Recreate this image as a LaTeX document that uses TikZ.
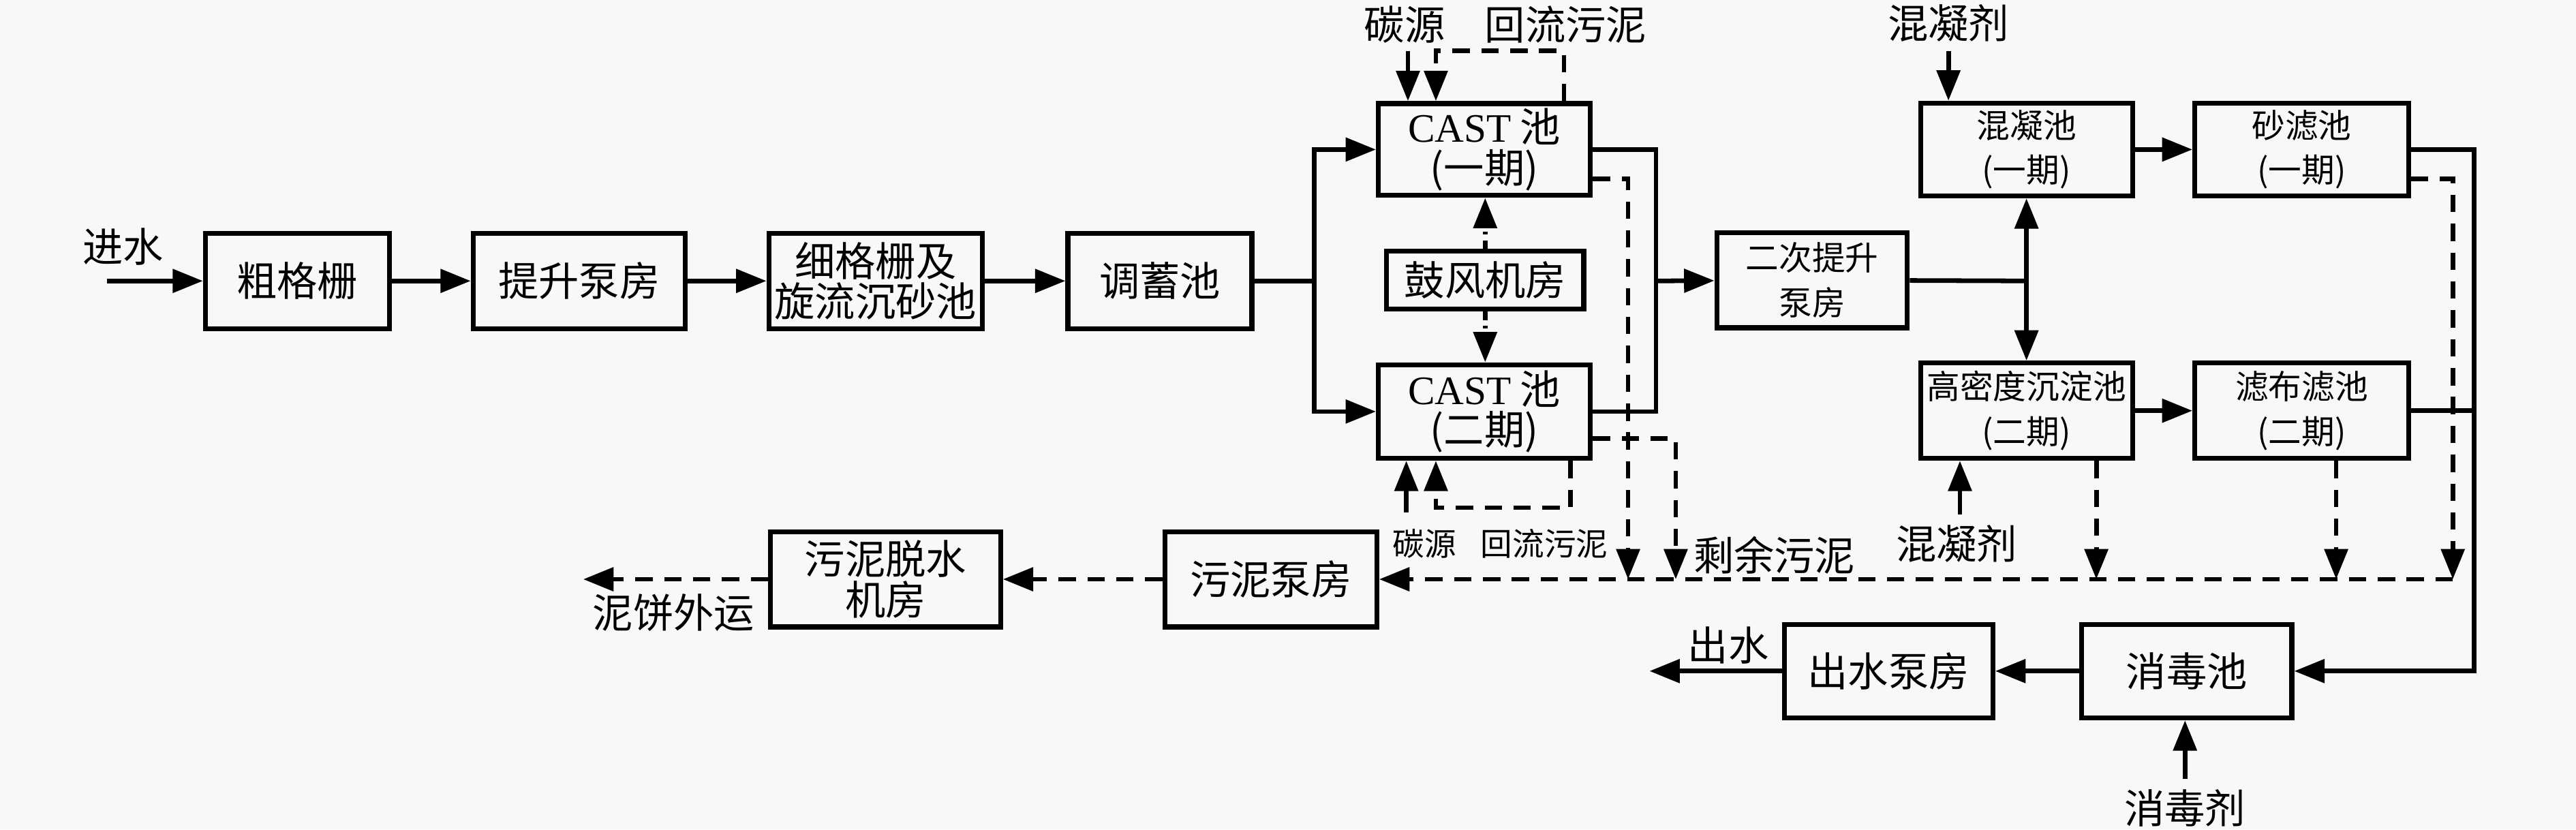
\documentclass[tikz,border=0pt]{standalone}
\usepackage{fontspec}
\setmainfont{Noto Sans CJK SC}
\newfontfamily\castfont{Liberation Serif}
\usetikzlibrary{arrows.meta}
\definecolor{bg}{RGB}{248,248,248}
\tikzset{
  box/.style={draw, line width=1.7pt, align=center, inner sep=0pt,
    minimum height=1.16cm, font={\fontsize{14}{14}\selectfont}},
  sbox/.style={box, font={\fontsize{11.5}{15.5}\selectfont}},
  lbl/.style={inner sep=0pt, font={\fontsize{14}{14}\selectfont}},
  slbl/.style={inner sep=0pt, font={\fontsize{11}{11}\selectfont}},
  pipe/.style={line width=1.6pt},
  flow/.style={pipe, -{Triangle[length=10.5pt,width=8pt]}},
  sludge/.style={flow, dash pattern=on 6pt off 4pt},
  air/.style={flow, dash pattern=on 3pt off 2pt on 1pt off 2pt},
}
\begin{document}
\begin{tikzpicture}[x=0.02cm, y=-0.02cm]
      \fill[bg] (0,0) rectangle (1568,505);
      \useasboundingbox (0,0) rectangle (1568,505);
      \draw
        (181,171) node[box, minimum width=2.24cm] (cg) {粗格栅}
        (352.5,171) node[box, minimum width=2.58cm] (ts) {提升泵房}
        (533,171) node[box, minimum width=2.6cm] (xg) {细格栅及\\旋流沉砂池}
        (706,171) node[box, minimum width=2.24cm] (tx) {调蓄池}
        (903.5,91) node[box, minimum width=2.58cm, minimum height=1.12cm] (c1) {{\castfont CAST} 池\\(一期)}
        (904,170.5) node[box, minimum width=2.4cm, minimum height=0.7cm] (gf) {鼓风机房}
        (903.5,250.5) node[box, minimum width=2.58cm, minimum height=1.14cm] (c2) {{\castfont CAST} 池\\(二期)}
        (1103,170.5) node[sbox, minimum width=2.32cm] (ec) {二次提升\\泵房}
        (1233.5,91) node[sbox, minimum width=2.58cm, minimum height=1.13cm] (hn) {混凝池\\(一期)}
        (1401,91) node[sbox, minimum width=2.6cm, minimum height=1.13cm] (sl) {砂滤池\\(一期)}
        (1233.5,250) node[sbox, minimum width=2.58cm] (gm) {高密度沉淀池\\(二期)}
        (1401,250) node[sbox, minimum width=2.6cm] (lb) {滤布滤池\\(二期)}
        (1331,408.5) node[box, minimum width=2.56cm, minimum height=1.14cm] (xd) {消毒池}
        (1149.5,408.5) node[box, minimum width=2.54cm, minimum height=1.14cm] (cs) {出水泵房}
        (773.5,352.6) node[box, minimum width=2.58cm] (wb) {污泥泵房}
        (539,352.6) node[box, minimum width=2.8cm] (wt) {污泥脱水\\机房};
      \draw
        (75,150) node[lbl] (l0) {进水}
        (855,15) node[lbl] (l1) {碳源}
        (953,15) node[lbl] (l2) {回流污泥}
        (867,331) node[slbl] (l3) {碳源}
        (940,331) node[slbl] (l4) {回流污泥}
        (1080,338) node[lbl] (l5) {剩余污泥}
        (1186,14) node[lbl] (l6) {混凝剂}
        (1191,331) node[lbl] (l7) {混凝剂}
        (1330,492) node[lbl] (l8) {消毒剂}
        (1052,393) node[lbl] (l9) {出水}
        (410,373) node[lbl] (l10) {泥饼外运};
      \coordinate (in) at (65,171);
      \coordinate (j1) at (800,171);
      \coordinate (j2) at (1008,171);
      \coordinate (j3) at (1233.5,171);
      \coordinate (j4) at (1506,250);
      \coordinate (out) at (1004,408.5);
      \coordinate (cake) at (355,352.6);
      \coordinate (cs1) at (857,31);
      \coordinate (rs1) at (874,31);
      \coordinate (cs2) at (856,312);
      \coordinate (rs2) at (874,309);
      \coordinate (cd1) at (1186,31);
      \coordinate (cd2) at (1193,313);
      \coordinate (ds) at (1330,474);
      \coordinate (sd1) at (991,352.6);
      \coordinate (sd2) at (1020,352.6);
      \coordinate (sd3) at (1276,352.6);
      \coordinate (sd4) at (1422,352.6);
      \coordinate (sd5) at (1493,352.6);
      \begin{scope}
        \draw[flow] (in) to (cg);
        \draw[flow] (cg) to (ts);
        \draw[flow] (ts) to (xg);
        \draw[flow] (xg) to (tx);
        \draw[pipe] (tx) to (j1);
        \draw[flow] (j1) |- (c1);
        \draw[flow] (j1) |- (c2);
        \draw[pipe] (c1) -| (j2);
        \draw[pipe] (c2) -| (j2);
        \draw[flow] (j2) to (ec);
        \draw[pipe] (ec) to (j3);
        \draw[flow] (j3) to (hn);
        \draw[flow] (j3) to (gm);
        \draw[flow] (hn) to (sl);
        \draw[flow] (gm) to (lb);
        \draw[pipe] (sl) -| (j4);
        \draw[pipe] (lb) to (j4);
        \draw[flow] (j4) |- (xd);
        \draw[flow] (xd) to (cs);
        \draw[flow] (cs) to (out);
        \draw[flow] (ds) to (ds |- xd.south);
        \draw[flow] (cd1) to (cd1 |- hn.north);
        \draw[flow] (cd2) to (cd2 |- gm.south);
        \draw[flow] (cs1) to (cs1 |- c1.north);
        \draw[flow] (cs2) to (cs2 |- c2.south);
        \draw[air] (gf.north) to (gf.north |- c1.south);
        \draw[air] (gf.south) to (gf.south |- c2.north);
      \end{scope}
      \begin{scope}[sludge]
        \draw (952,0 |- c1.north) |- (rs1) -- (rs1 |- c1.north);
        \draw (956,0 |- c2.south) |- (rs2) -- (rs2 |- c2.south);
        \draw (c1.east |- 0,109) -| (sd1);
        \draw (c2.east |- 0,267) -| (sd2);
        \draw (1276,0 |- gm.south) to (sd3);
        \draw (1422,0 |- lb.south) to (sd4);
        \draw (sl.east |- 0,109) -| (sd5);
        \draw (sd5) to (wb.east);
        \draw (wb) to (wt);
        \draw (wt) to (cake);
      \end{scope}
    \end{tikzpicture}
\end{document}
